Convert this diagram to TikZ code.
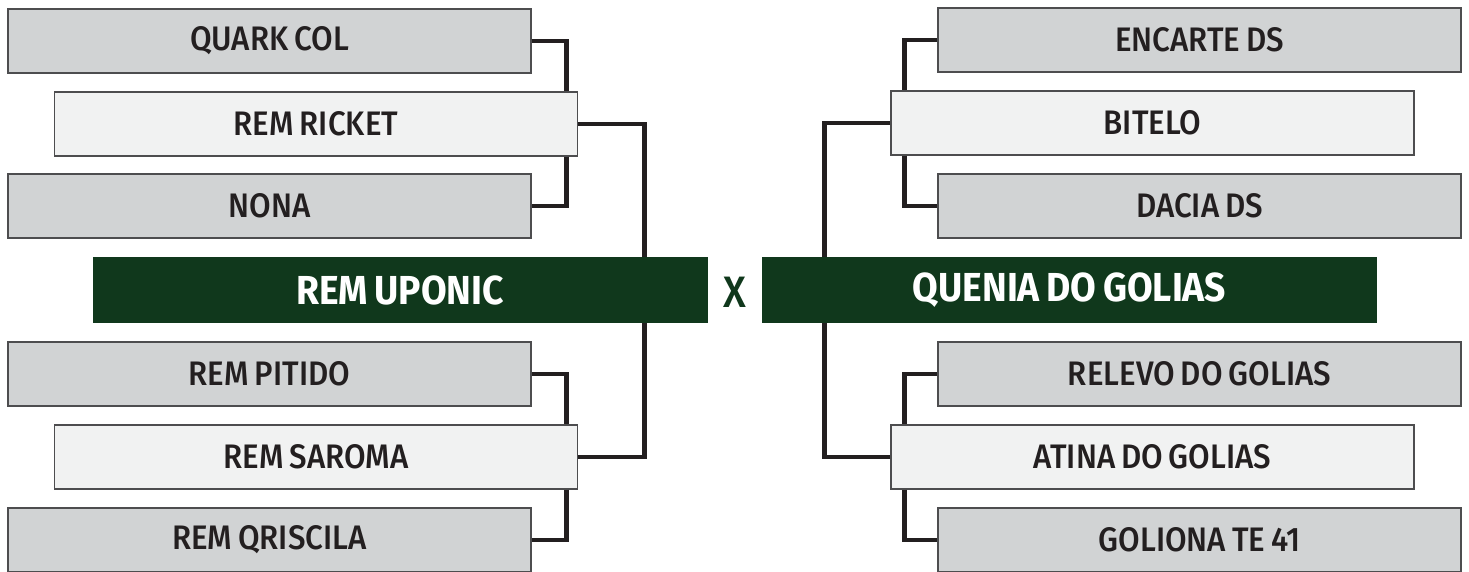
\documentclass[tikz,border=0pt]{standalone}
\usepackage{fontspec}
\setmainfont[FakeStretch=0.92, WordSpace=0.75, UprightFont=* Medium, BoldFont=* Bold]{Fira Sans}
\usepackage{tikz}
\usetikzlibrary{arrows,shapes}
\definecolor{boxgray}{HTML}{D1D3D4}
\definecolor{boxlight}{HTML}{F1F2F2}
\definecolor{boxedge}{HTML}{4D4D4F}
\definecolor{clubgreen}{HTML}{10381C}
\definecolor{linkblack}{HTML}{231F20}

\begin{document}
\begin{tikzpicture}[x=1pt, y=-1pt,
	team/.style={fill=boxgray, draw=boxedge, line width=1.3pt, minimum width=523pt, minimum height=64pt, inner sep=0pt, font=\fontsize{34}{38}\selectfont, text=linkblack},
	seed/.style={team, fill=boxlight},
	final/.style={fill=clubgreen, draw=none, minimum width=615pt, minimum height=66pt, inner sep=0pt, font=\fontsize{40.5}{44}\selectfont\bfseries, text=white},
	link/.style={draw=linkblack, line width=4.8pt, line cap=butt}]
	\useasboundingbox (0, 0) rectangle (1469, 572);

	\node [team] (quark) at (269.5, 41) {QUARK COL};
	\node [seed] (ricket) at (316, 124) {REM RICKET};
	\node [team] (nona) at (269.5, 206) {NONA};

	\node [team] (pitido) at (269.5, 374) {REM PITIDO};
	\node [seed] (saroma) at (316, 457) {REM SAROMA};
	\node [team] (qriscila) at (269.5, 540) {REM QRISCILA};

	\node [team] (encarte) at (1199.5, 40) {ENCARTE DS};
	\node [seed] (bitelo) at (1152.5, 123) {BITELO};
	\node [team] (dacia) at (1199.5, 206) {DACIA DS};

	\node [team] (relevo) at (1199.5, 374) {RELEVO DO GOLIAS};
	\node [seed] (atina) at (1152.5, 457) {ATINA DO GOLIAS};
	\node [team] (goliona) at (1199.5, 540) {GOLIONA TE 41};

	\node [final] (uponic) at (400, 290) {REM UPONIC};
	\node [final] (quenia) at (1069.5, 290) {QUENIA DO GOLIAS};
	\node [text=clubgreen, font=\fontsize{44}{46}\selectfont] (versus) at (735, 292) {X};

	\draw [link] (quark.east) -| ([xshift=-12pt]ricket.north east);
	\draw [link] ([xshift=-12pt]ricket.south east) |- (nona.east);
	\draw [link] (ricket.east) -| ([xshift=-63pt]uponic.north east);

	\draw [link] (pitido.east) -| ([xshift=-12pt]saroma.north east);
	\draw [link] ([xshift=-12pt]saroma.south east) |- (qriscila.east);
	\draw [link] (saroma.east) -| ([xshift=-63pt]uponic.south east);

	\draw [link] (encarte.west) -| ([xshift=14pt]bitelo.north west);
	\draw [link] ([xshift=14pt]bitelo.south west) |- (dacia.west);
	\draw [link] (bitelo.west) -| ([xshift=63pt]quenia.north west);

	\draw [link] (relevo.west) -| ([xshift=14pt]atina.north west);
	\draw [link] ([xshift=14pt]atina.south west) |- (goliona.west);
	\draw [link] (atina.west) -| ([xshift=63pt]quenia.south west);

\end{tikzpicture}
\end{document}
